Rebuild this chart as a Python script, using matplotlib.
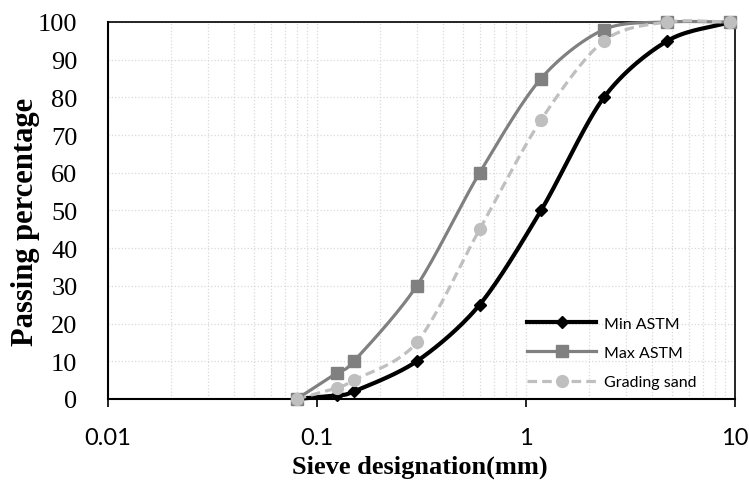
import numpy as np
import matplotlib
matplotlib.use("Agg")
import matplotlib.pyplot as plt
from matplotlib.ticker import FixedLocator, NullFormatter, LogLocator

# Data #############################################################
sieve = [0.08, 0.125, 0.15, 0.3, 0.6, 1.18, 2.36, 4.75, 9.5]
min_astm = [0, 1, 2, 10, 25, 50, 80, 95, 100]
max_astm = [0, 7, 10, 30, 60, 85, 98, 100, 100]
grading_sand = [0, 3, 5, 15, 45, 74, 95, 100, 100]

x_ticks = [0.01, 0.1, 1, 10]
x_tick_labels = ["0.01", "0.1", "1", "10"]
y_ticks = list(range(0, 101, 10))


# Smoothed line like Excel (Catmull-Rom in log-x space) - only for drawing
def smooth(x, y, n=30):
    lx = np.log10(np.array(x, dtype=float))
    yy = np.array(y, dtype=float)
    px = np.concatenate(([2 * lx[0] - lx[1]], lx, [2 * lx[-1] - lx[-2]]))
    py = np.concatenate(([2 * yy[0] - yy[1]], yy, [2 * yy[-1] - yy[-2]]))
    out_x, out_y = [], []
    for i in range(1, len(px) - 2):
        t = np.linspace(0, 1, n)
        for arr, out in ((px, out_x), (py, out_y)):
            p0, p1, p2, p3 = arr[i - 1], arr[i], arr[i + 1], arr[i + 2]
            m1 = (p2 - p0) / 2 * 0.9
            m2 = (p3 - p1) / 2 * 0.9
            h00 = 2 * t**3 - 3 * t**2 + 1
            h10 = t**3 - 2 * t**2 + t
            h01 = -2 * t**3 + 3 * t**2
            h11 = t**3 - t**2
            out.extend(h00 * p1 + h10 * m1 + h01 * p2 + h11 * m2)
    return 10 ** np.array(out_x), np.array(out_y)


# Plot #############################################################
fig = plt.figure(figsize=(7.49, 4.81), dpi=100)
ax = fig.add_axes([0.1442, 0.1684, 0.8371, 0.7838])

series = [
    ("Min ASTM", min_astm, "#000000", "-", "D", 6, 3.0),
    ("Max ASTM", max_astm, "#808080", "-", "s", 8, 2.3),
    ("Grading sand", grading_sand, "#bfbfbf", (0, (3, 1.6)), "o", 8.5, 2.3),
]
for name, vals, col, ls, mk, ms, lw in series:
    sx, sy = smooth(sieve, vals)
    ax.plot(sx, sy, color=col, linestyle=ls, linewidth=lw, clip_on=False, zorder=3)
    ax.plot(sieve, vals, linestyle="none", marker=mk, markersize=ms, color=col,
            clip_on=False, zorder=4)
    # legend proxy
    ax.plot([], [], color=col, linestyle=ls, linewidth=lw, marker=mk, markersize=ms,
            label=name)

ax.set_xscale("log")
ax.set_xlim(0.01, 10)
ax.set_ylim(0, 100)

ax.xaxis.set_major_locator(FixedLocator(x_ticks))
ax.set_xticklabels(x_tick_labels)
ax.xaxis.set_minor_locator(LogLocator(base=10, subs=np.arange(2, 10)))
ax.xaxis.set_minor_formatter(NullFormatter())
ax.set_yticks(y_ticks)

ax.grid(True, which="both", axis="x", color="#d9d9d9", linestyle=":", linewidth=0.9)
ax.grid(True, which="major", axis="y", color="#d9d9d9", linestyle=":", linewidth=0.9)
ax.set_axisbelow(True)

for s in ax.spines.values():
    s.set_color("black")
    s.set_linewidth(1.2)
ax.spines["left"].set_linewidth(1.5)
ax.spines["bottom"].set_linewidth(1.5)

ax.tick_params(axis="x", which="major", direction="out", length=6, width=1.2,
               pad=14, labelsize=17)
ax.tick_params(axis="x", which="minor", length=0)
ax.tick_params(axis="y", length=0, pad=22, labelsize=19)
for lab in ax.get_xticklabels():
    lab.set_family("Lato")
for lab in ax.get_yticklabels():
    lab.set_family("Liberation Serif")

ax.set_xlabel("Sieve designation(mm)", fontsize=19, fontweight="bold",
              family="Liberation Serif", va="center")
ax.xaxis.set_label_coords(0.498, -0.178)
ax.set_ylabel("Passing percentage", fontsize=22, fontweight="bold",
              family="Liberation Serif", va="center")
ax.yaxis.set_label_coords(-0.132, 0.472)

ax.legend(loc="upper left", bbox_to_anchor=(0.646, 0.257), frameon=False,
          prop={"family": "Lato", "size": 11.5}, handlelength=4.3,
          labelspacing=0.95, handletextpad=0.5)

fig.savefig("out.png", dpi=100)
